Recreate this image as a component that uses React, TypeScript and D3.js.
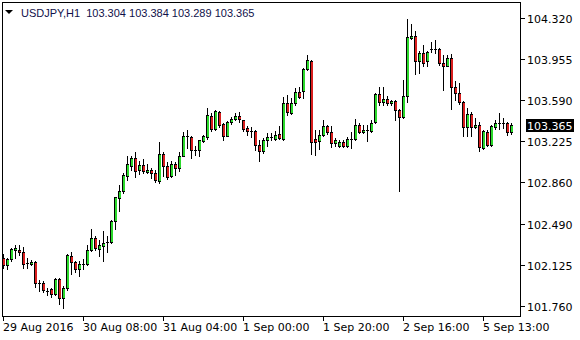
import React from "react";
import * as d3 from "d3";

// Hourly USDJPY candles, 29 Aug 2016 12:00 .. 5 Sep 2016
const opens = [
  102.183, 102.124, 102.178, 102.254, 102.258, 102.236, 102.130, 102.130, 102.154, 101.961,
  101.961, 101.890, 101.911, 101.867, 102.000, 101.831, 101.920, 102.201, 102.151, 102.089,
  102.133, 102.133, 102.260, 102.364, 102.269, 102.296, 102.322, 102.325, 102.518, 102.720,
  102.785, 102.912, 103.007, 103.076, 102.965, 103.016, 102.951, 102.972, 102.942, 102.874,
  103.111, 103.007, 102.912, 103.022, 102.987, 103.096, 103.270, 103.262, 103.149, 103.143,
  103.223, 103.262, 103.452, 103.333, 103.481, 103.380, 103.274, 103.392, 103.422, 103.452,
  103.410, 103.342, 103.318, 103.312, 103.194, 103.134, 103.232, 103.258, 103.244, 103.289,
  103.244, 103.564, 103.476, 103.564, 103.665, 103.668, 103.867, 103.940, 103.244, 103.223,
  103.283, 103.363, 103.303, 103.209, 103.179, 103.218, 103.179, 103.242, 103.244, 103.369,
  103.307, 103.321, 103.312, 103.396, 103.644, 103.573, 103.600, 103.561, 103.585, 103.505,
  103.436, 103.623, 104.142, 104.163, 103.934, 104.009, 103.934, 104.042, 104.046, 104.044,
  103.920, 103.896, 103.964, 103.707, 103.653, 103.570, 103.351, 103.469, 103.351, 103.372,
  103.164, 103.307, 103.188, 103.351, 103.385, 103.389, 103.387, 103.304,
];
const highs = [
  102.219, 102.183, 102.278, 102.302, 102.302, 102.284, 102.189, 102.172, 102.160, 101.988,
  101.982, 101.916, 101.923, 102.005, 102.005, 101.940, 102.222, 102.240, 102.156, 102.156,
  102.178, 102.305, 102.447, 102.385, 102.343, 102.429, 102.379, 102.521, 102.728, 102.838,
  102.942, 103.096, 103.090, 103.129, 103.045, 103.069, 103.022, 102.987, 102.972, 103.218,
  103.129, 103.040, 103.045, 103.040, 103.125, 103.303, 103.327, 103.274, 103.179, 103.238,
  103.283, 103.520, 103.476, 103.499, 103.490, 103.387, 103.401, 103.440, 103.476, 103.481,
  103.416, 103.356, 103.351, 103.327, 103.238, 103.253, 103.298, 103.298, 103.312, 103.356,
  103.618, 103.638, 103.609, 103.698, 103.707, 103.876, 103.994, 103.949, 103.327, 103.327,
  103.410, 103.372, 103.363, 103.253, 103.238, 103.238, 103.262, 103.303, 103.422, 103.387,
  103.372, 103.372, 103.416, 103.653, 103.703, 103.703, 103.629, 103.594, 103.594, 103.510,
  103.772, 104.314, 104.267, 104.201, 104.029, 104.083, 104.023, 104.103, 104.121, 104.053,
  103.994, 103.994, 104.003, 103.756, 103.742, 103.579, 103.520, 103.481, 103.431, 103.392,
  103.321, 103.327, 103.372, 103.410, 103.476, 103.431, 103.392, 103.384,
];
const lows = [
  102.094, 102.089, 102.160, 102.183, 102.213, 102.094, 102.094, 102.124, 101.932, 101.893,
  101.887, 101.858, 101.836, 101.858, 101.780, 101.742, 101.905, 102.047, 102.059, 102.023,
  102.089, 102.127, 102.245, 102.260, 102.207, 102.156, 102.236, 102.320, 102.447, 102.607,
  102.767, 102.883, 102.972, 102.903, 102.933, 102.942, 102.942, 102.898, 102.862, 102.853,
  102.912, 102.892, 102.903, 102.927, 102.956, 103.090, 103.164, 103.076, 103.105, 103.090,
  103.214, 103.244, 103.312, 103.327, 103.351, 103.238, 103.268, 103.378, 103.410, 103.392,
  103.312, 103.283, 103.262, 103.149, 103.045, 103.120, 103.179, 103.232, 103.232, 103.244,
  103.232, 103.460, 103.469, 103.549, 103.609, 103.609, 103.860, 103.114, 103.105, 103.156,
  103.274, 103.292, 103.173, 103.179, 103.173, 103.170, 103.173, 103.164, 103.232, 103.298,
  103.298, 103.229, 103.307, 103.387, 103.543, 103.549, 103.543, 103.543, 103.416, 102.785,
  103.431, 103.573, 104.136, 103.822, 103.831, 103.890, 103.890, 104.014, 104.009, 103.905,
  103.683, 103.890, 103.511, 103.594, 103.558, 103.268, 103.268, 103.268, 103.342, 103.134,
  103.156, 103.179, 103.179, 103.333, 103.333, 103.342, 103.283, 103.289,
];
const closes = [
  102.124, 102.178, 102.267, 102.272, 102.236, 102.130, 102.142, 102.154, 101.961, 101.966,
  101.902, 101.886, 101.869, 102.000, 101.828, 101.920, 102.210, 102.148, 102.089, 102.133,
  102.137, 102.260, 102.364, 102.276, 102.299, 102.320, 102.328, 102.518, 102.725, 102.785,
  102.921, 103.025, 103.076, 102.963, 103.016, 102.963, 102.972, 102.942, 102.883, 103.111,
  103.001, 102.903, 103.022, 102.987, 103.096, 103.274, 103.266, 103.149, 103.138, 103.232,
  103.274, 103.460, 103.333, 103.490, 103.372, 103.268, 103.392, 103.422, 103.452, 103.422,
  103.336, 103.312, 103.303, 103.188, 103.134, 103.238, 103.259, 103.262, 103.283, 103.253,
  103.564, 103.481, 103.564, 103.665, 103.618, 103.867, 103.949, 103.214, 103.220, 103.283,
  103.356, 103.303, 103.209, 103.238, 103.220, 103.179, 103.244, 103.246, 103.369, 103.309,
  103.327, 103.325, 103.387, 103.644, 103.573, 103.600, 103.561, 103.585, 103.505, 103.436,
  103.629, 104.148, 104.163, 103.934, 104.009, 103.923, 104.014, 104.046, 104.042, 103.920,
  103.896, 103.964, 103.707, 103.653, 103.570, 103.351, 103.469, 103.351, 103.372, 103.173,
  103.312, 103.188, 103.363, 103.387, 103.389, 103.385, 103.303, 103.365,
];

const priceTicks = [104.32, 103.955, 103.59, 103.225, 102.86, 102.49, 102.125, 101.76];
const timeTickIndex = [0, 20, 40, 60, 80, 100, 120];
const timeTickLabels = [
  "29 Aug 2016",
  "30 Aug 08:00",
  "31 Aug 04:00",
  "1 Sep 00:00",
  "1 Sep 20:00",
  "2 Sep 16:00",
  "5 Sep 13:00",
];
const symbol = "USDJPY,H1";

const W = 580;
const H = 340;
const UP = "#2bd82b";
const DOWN = "#d81e1e";
const FONT = "'DejaVu Sans', Verdana, sans-serif";
const HEADER_FONT = "'Liberation Sans', Arial, sans-serif";

export default function App() {
  const y = d3.scaleLinear().domain([101.76, 104.32]).range([306, 18]);
  const x = d3.scaleLinear().domain([0, opens.length - 1]).range([3, 3 + 4 * (opens.length - 1)]);
  const last = closes.length - 1;
  const header = `${symbol}  ${opens[last].toFixed(3)} ${highs[last].toFixed(3)} ${lows[last].toFixed(3)} ${closes[last].toFixed(3)}`;
  const yLast = Math.round(y(closes[last]));

  return (
    <svg
      width={W}
      height={H}
      style={{ position: "absolute", left: 0, top: 0, background: "#fff" }}
      fontFamily={FONT}
    >
      <rect x={0} y={0} width={W} height={H} fill="#fff" />
      {opens.map((o, i) => {
        const c = closes[i];
        const cx = Math.round(x(i));
        const yH = Math.round(y(highs[i]));
        const yL = Math.round(y(lows[i]));
        const yT = Math.round(y(Math.max(o, c)));
        const yB = Math.round(y(Math.min(o, c)));
        const col = c >= o ? UP : DOWN;
        return (
          <g key={i} shapeRendering="crispEdges">
            <line x1={cx + 0.5} x2={cx + 0.5} y1={yH} y2={yL + 1} stroke="#000" />
            {yB - yT < 2 ? (
              <line x1={cx - 1} x2={cx + 2} y1={yT + 0.5} y2={yT + 0.5} stroke="#000" />
            ) : (
              <g>
                <rect x={cx - 1} y={yT} width={3} height={yB - yT + 1} fill="#000" />
                <rect x={cx} y={yT + 1} width={2} height={yB - yT - 1} fill={col} />
              </g>
            )}
          </g>
        );
      })}
      <rect x={2.5} y={2.5} width={518} height={314} fill="none" stroke="#000" shapeRendering="crispEdges" />
      {priceTicks.map((v) => {
        const ty = Math.round(y(v));
        return (
          <g key={v}>
            <line x1={521} x2={525} y1={ty + 0.5} y2={ty + 0.5} stroke="#000" shapeRendering="crispEdges" />
            <text x={527} y={ty + 4.5} fontSize={11} fill="#000">
              {v.toFixed(3)}
            </text>
          </g>
        );
      })}
      <rect x={526} y={yLast - 6} width={48} height={13} fill="#000" />
      <text x={527} y={yLast + 4.5} fontSize={11} fill="#fff">
        {closes[last].toFixed(3)}
      </text>
      {timeTickIndex.map((idx, k) => {
        const tx = Math.round(x(idx));
        return (
          <g key={idx}>
            <line x1={tx + 0.5} x2={tx + 0.5} y1={317} y2={321} stroke="#000" shapeRendering="crispEdges" />
            <text x={tx} y={331} fontSize={11} fill="#000">
              {timeTickLabels[k]}
            </text>
          </g>
        );
      })}
      <path d="M5,10 L13,10 L9,14 Z" fill="#000" />
      <text x={21} y={17} fontSize={11} fill="#10104a" fontFamily={HEADER_FONT} style={{ whiteSpace: "pre" }}>
        {header}
      </text>
    </svg>
  );
}
